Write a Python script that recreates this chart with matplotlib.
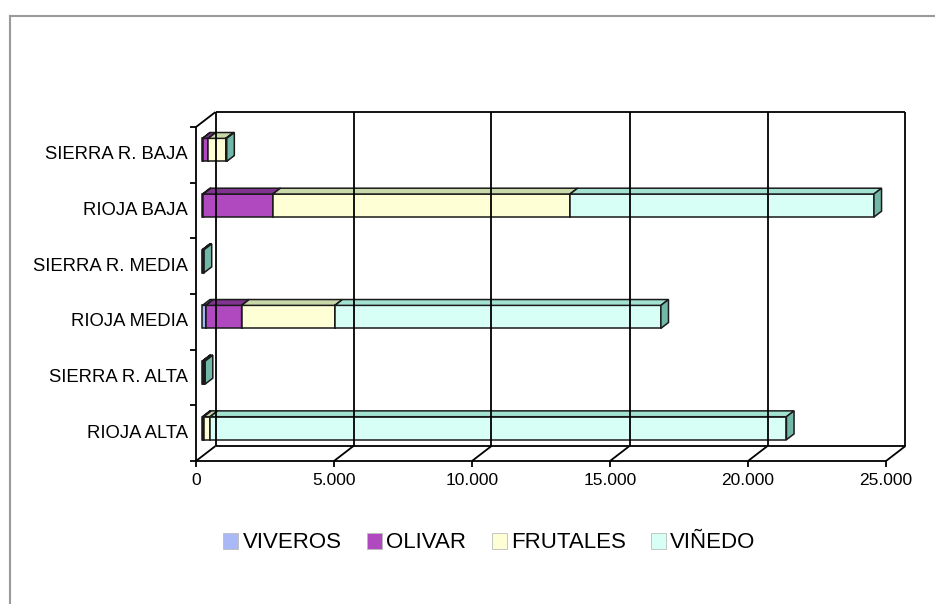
import matplotlib
matplotlib.use("Agg")
import matplotlib.pyplot as plt
from matplotlib.patches import Polygon, Patch
from matplotlib.lines import Line2D

plt.rcParams['font.family'] = ['Liberation Sans', 'DejaVu Sans']

# ---------------- data ----------------
categories = ["RIOJA ALTA", "SIERRA R. ALTA", "RIOJA MEDIA",
              "SIERRA R. MEDIA", "RIOJA BAJA", "SIERRA R. BAJA"]
series_names = ["VIVEROS", "OLIVAR", "FRUTALES", "VIÑEDO"]
viveros = [20, 10, 120, 5, 30, 10]
olivar = [30, 10, 1300, 5, 2520, 200]
frutales = [230, 20, 3380, 10, 10770, 640]
vinedo = [20880, 60, 11810, 40, 11010, 30]
x_ticks = [0, 5000, 10000, 15000, 20000, 25000]
x_max = 25000

series = [viveros, olivar, frutales, vinedo]
front_cols = ["#A9B9F8", "#B048C0", "#FFFFD6", "#D8FFF6"]
top_cols = ["#8496D8", "#80348F", "#C9D8A8", "#A2E2D0"]
side_cols = ["#7A8CCC", "#7A2F8A", "#C8C890", "#72B8A8"]
edge = "#1a1a1a"

# ---------------- layout ----------------
W, H = 935, 604
fig = plt.figure(figsize=(W / 100, H / 100), dpi=100)
fig.patch.set_facecolor("white")
x0p, x1p, ytp, ybp = 196, 886, 127, 461
ax = fig.add_axes([x0p / W, (H - ybp) / H, (x1p - x0p) / W, (ybp - ytp) / H])
ax.set_xlim(0, x_max)
ax.set_ylim(-0.5, len(categories) - 0.5)
ax.axis("off")

ux = x_max / (x1p - x0p)            # data units per pixel (x)
uy = len(categories) / (ybp - ytp)  # data units per pixel (y)
DX = 19.5 * ux                      # full depth offset
DY = 15 * uy
f1, f2 = 0.33, 0.72                 # bar depth range
half_h = 11.5 * uy

ymin, ymax = -0.5, len(categories) - 0.5
lw = 1.3

def line(xs, ys, **kw):
    ax.add_line(Line2D(xs, ys, color="black", lw=lw, clip_on=False,
                       solid_capstyle="butt", **kw))

# back wall
ax.add_patch(Polygon([(DX, ymin + DY), (x_max + DX, ymin + DY),
                      (x_max + DX, ymax + DY), (DX, ymax + DY)],
                     closed=True, facecolor="white", edgecolor="none", clip_on=False))
for t in x_ticks:
    line([t + DX, t + DX], [ymin + DY, ymax + DY])
line([DX, x_max + DX], [ymax + DY, ymax + DY])
line([DX, x_max + DX], [ymin + DY, ymin + DY])
# floor diagonals
for t in x_ticks:
    line([t, t + DX], [ymin, ymin + DY])
# left wall
line([0, 0], [ymin, ymax])
line([0, DX], [ymax, ymax + DY])
# front x axis
line([0, x_max], [ymin, ymin])

# ticks
for t in x_ticks:
    line([t, t], [ymin, ymin - 6 * uy])
    ax.text(t, ymin - 12 * uy, f"{t:,}".replace(",", "."), ha="center", va="top",
            fontsize=12.5, color="black")
for i in range(len(categories) + 1):
    yb = ymin + i
    line([0, -6 * ux], [yb, yb])
for i, c in enumerate(categories):
    ax.text(-8 * ux, i, c, ha="right", va="center", fontsize=13.3, color="black")

# bars
ddx = (f2 - f1) * DX
ddy = (f2 - f1) * DY
for i in range(len(categories)):
    left = 0.0
    yc = i
    ox, oy = f1 * DX, f1 * DY
    for s, vals in enumerate(series):
        v = vals[i]
        if v <= 0:
            continue
        a = left + ox
        b = left + v + ox
        y0 = yc - half_h + oy
        y1 = yc + half_h + oy
        front = [(a, y0), (b, y0), (b, y1), (a, y1)]
        top = [(a, y1), (b, y1), (b + ddx, y1 + ddy), (a + ddx, y1 + ddy)]
        side = [(b, y0), (b + ddx, y0 + ddy), (b + ddx, y1 + ddy), (b, y1)]
        for poly, col in ((front, front_cols[s]), (top, top_cols[s]), (side, side_cols[s])):
            ax.add_patch(Polygon(poly, closed=True, facecolor=col, edgecolor=edge,
                                 lw=1.1, joinstyle="miter", clip_on=False))
        left += v

# legend
handles = [Patch(facecolor=front_cols[k], edgecolor="#bbbbbb", lw=0.6, label=series_names[k])
           for k in range(4)]
fig.legend(handles=handles, loc="center", bbox_to_anchor=(489.5 / W, 1 - 543 / H),
           ncol=4, frameon=False, fontsize=16, handlelength=0.68, handleheight=0.75,
           handletextpad=0.18, columnspacing=1.15, borderpad=0)

# outer frame (top and left only visible)
fig.add_artist(Line2D([10 / W, 1], [1 - 16 / H, 1 - 16 / H], transform=fig.transFigure,
                      color="#9a9a9a", lw=1.5))
fig.add_artist(Line2D([10 / W, 10 / W], [1 - 16 / H, 0], transform=fig.transFigure,
                      color="#9a9a9a", lw=1.5))

fig.savefig("out.png", dpi=100, facecolor="white")
